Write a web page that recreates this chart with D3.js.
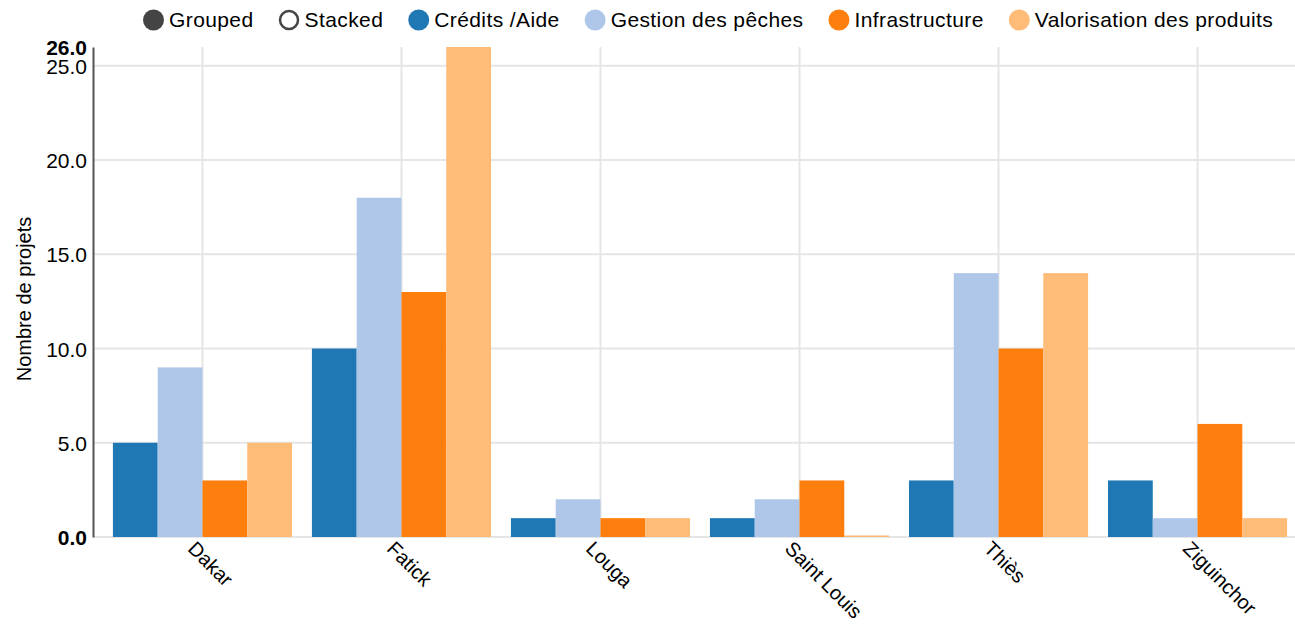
<!DOCTYPE html>
<html><head><meta charset="utf-8">
<script src="https://cdn.jsdelivr.net/npm/d3@7"></script>
<style>
body{margin:0;background:#fff;}
text{font-family:"Liberation Sans",Arial,sans-serif;fill:#000;}
</style></head><body>
<svg id="chart" width="1295" height="630"></svg>
<script>
const categories = ["Dakar","Fatick","Louga","Saint Louis","Thiès","Ziguinchor"];
const seriesNames = ["Crédits /Aide","Gestion des pêches","Infrastructure","Valorisation des produits"];
const creditsAide = [5,10,1,1,3,3];
const gestionPeches = [9,18,2,2,14,1];
const infrastructure = [3,13,1,3,10,6];
const valorisation = [5,26,1,0,14,1];
const colors = ["#1f77b4","#aec7e8","#ff7f0e","#ffbb78"];
const yTicks = [0,5,10,15,20,25];
const yMax = 26;
const controls = ["Grouped","Stacked"];

(function(){
const series = [creditsAide, gestionPeches, infrastructure, valorisation];
const svg = d3.select("#chart");
const FS = 21;
const mLeft = 93, mTop = 47, mBottom = 537, rightGrid = 1295;

const x = d3.scaleBand().domain(categories).range([mLeft, 1307]).paddingInner(0.1).paddingOuter(0.1);
const xs = d3.scaleBand().domain(d3.range(series.length)).range([0, x.bandwidth()]);
const y = d3.scaleLinear().domain([0, yMax]).range([mBottom, mTop]);

// horizontal grid
svg.append("g").selectAll("line").data(yTicks).join("line")
  .attr("x1", mLeft).attr("x2", rightGrid).attr("y1", d=>y(d)).attr("y2", d=>y(d))
  .attr("stroke","#e5e5e5").attr("stroke-width",2);
// vertical grid
svg.append("g").selectAll("line").data(categories).join("line")
  .attr("x1", d=>x(d)+x.bandwidth()/2).attr("x2", d=>x(d)+x.bandwidth()/2)
  .attr("y1", mTop).attr("y2", mBottom)
  .attr("stroke","#e5e5e5").attr("stroke-width",2);

// bars
series.forEach((vals, si) => {
  svg.append("g").selectAll("rect").data(vals).join("rect")
    .attr("x", (d,i)=>x(categories[i]) + xs(si))
    .attr("width", xs.bandwidth())
    .attr("y", d=> Math.min(y(d), y(0)-1.5))
    .attr("height", d=> Math.max(y(0)-y(d), 1.5))
    .attr("fill", colors[si]);
});

// y axis
const yAxis = d3.axisLeft(y).tickValues(yTicks).tickFormat(d3.format(".1f")).tickSize(0).tickPadding(6);
const gy = svg.append("g").attr("transform",`translate(${mLeft},0)`).call(yAxis);
gy.attr("font-family",null);
gy.select(".domain").attr("stroke","#555").attr("stroke-width",2);
gy.selectAll("text").style("font-size",FS+"px").attr("fill","#000").attr("dy","0.36em");
gy.selectAll(".tick").filter(d=>d===0).select("text").style("font-weight","bold");
gy.append("text").attr("x",-6).attr("y",y(yMax)).attr("dy","0.36em")
  .attr("text-anchor","end").style("font-size",FS+"px").style("font-weight","bold")
  .text(d3.format(".1f")(yMax));

// y label
svg.append("text").attr("transform",`translate(31,${(mTop+mBottom)/2 + 7}) rotate(-90)`)
  .attr("text-anchor","middle").style("font-size","20px").text("Nombre de projets");

// x axis labels
const gx = svg.append("g").attr("transform",`translate(0,${mBottom})`)
  .call(d3.axisBottom(x).tickSize(0).tickPadding(0));
gx.attr("font-family",null);
gx.select(".domain").remove();
gx.selectAll("text").style("font-size","20px").attr("fill","#000")
  .attr("text-anchor","start").attr("y",6).attr("dy","0.71em").attr("x",-2)
  .attr("transform","rotate(45)");

// legend
const legendItems = [
  ...controls.map((c,i)=>({name:c, type: i===0?"filled":"hollow", color:"#444"})),
  ...seriesNames.map((n,i)=>({name:n, type:"filled", color:colors[i]}))
];
let lx = 143;
const ly = 20;
const lg = svg.append("g");
legendItems.forEach(it => {
  const g = lg.append("g").attr("transform",`translate(${lx},${ly})`);
  g.append("circle").attr("cx",10.5).attr("cy",0).attr("r", it.type==="hollow"?9:10.5)
    .attr("fill", it.type==="hollow" ? "#fff" : it.color)
    .attr("stroke", it.color).attr("stroke-width", it.type==="hollow"?2.5:0);
  const t = g.append("text").attr("x",26).attr("y",0).attr("dy","0.33em")
    .style("font-size",FS+"px").style("letter-spacing","0.4px").attr("fill","#000").text(it.name);
  lx += 26 + t.node().getComputedTextLength() + 25;
});
})();
</script>
</body></html>
